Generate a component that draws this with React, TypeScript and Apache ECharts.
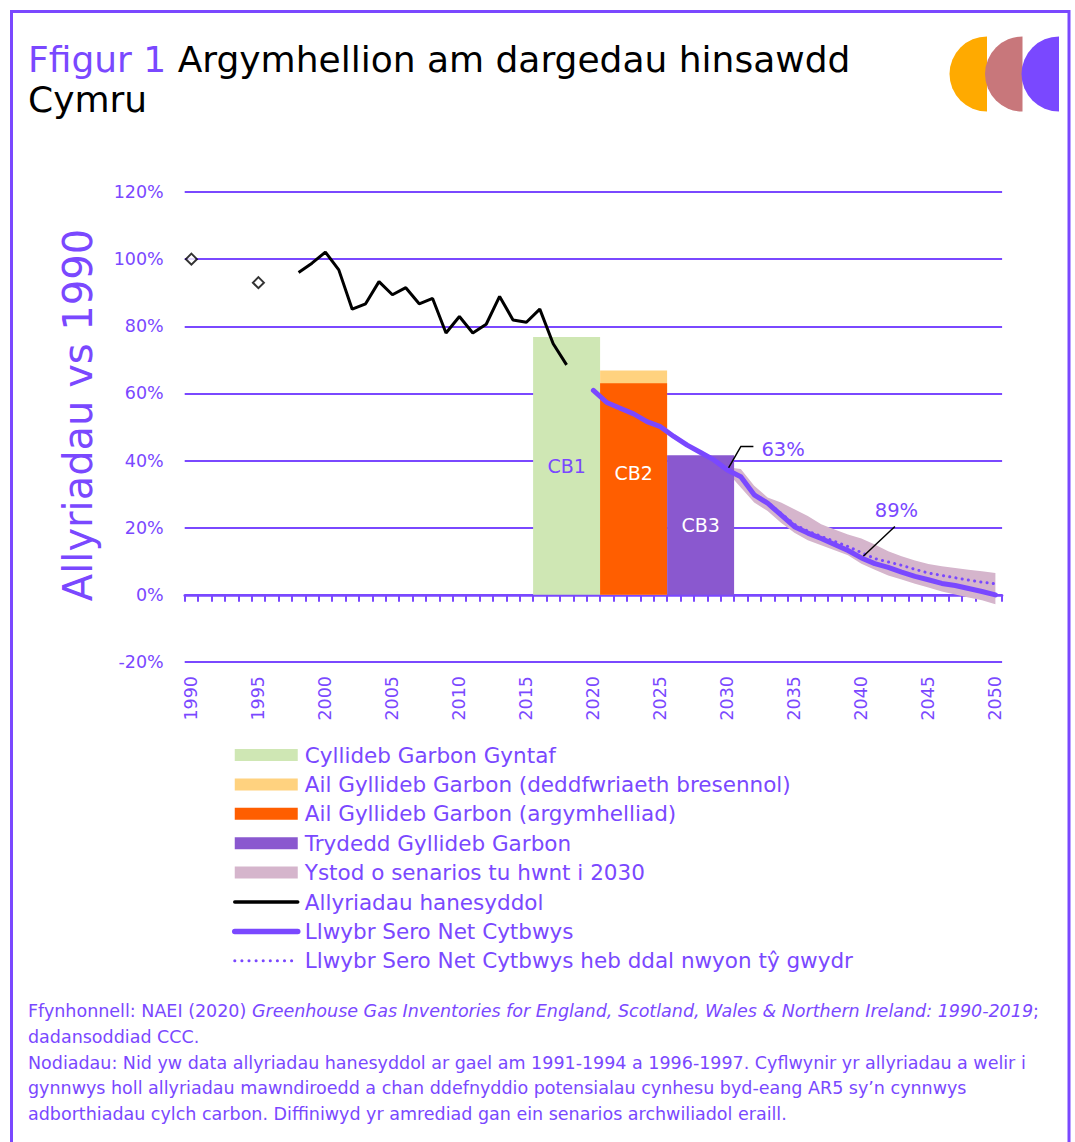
import React, { useEffect, useRef } from 'react';
import * as echarts from 'echarts';

const FONT = '"DejaVu Sans", sans-serif';
const PURPLE = '#7A48FF';
const GREEN = '#CFE7B4';
const YELLOW = '#FFD27F';
const ORANGE = '#FF5E00';
const CB3C = '#8A58CF';
const BAND = '#D5B5CC';

// Categories (years)
const categories: string[] = Array.from({ length: 61 }, (_, i) => String(1990 + i));
const yTicks = { min: -20, max: 120, interval: 20 };

// Historical emissions (% vs 1990)
const histPointYears = [1990, 1995];
const histPointValues = [100, 93];
const histYears = [1998, 1999, 2000, 2001, 2002, 2003, 2004, 2005, 2006, 2007, 2008, 2009, 2010, 2011, 2012, 2013, 2014, 2015, 2016, 2017, 2018];
const histValues = [96.0, 98.8, 102.1, 96.8, 85.1, 86.7, 93.3, 89.4, 91.5, 86.7, 88.3, 78.0, 82.9, 78.0, 80.6, 88.9, 81.9, 81.2, 85.1, 74.8, 68.5];

// Carbon budgets (first year, last year, level)
const cb1Years = [2016, 2020];
const cb1Value = 76.8;
const cb2Years = [2021, 2025];
const cb2LawValue = 66.8;
const cb2RecValue = 63.0;
const cb3Years = [2026, 2030];
const cb3Value = 41.6;
const cbLabels = ['CB1', 'CB2', 'CB3'];

// Balanced Net Zero Pathway
const netZeroYears = [2020, 2021, 2022, 2023, 2024, 2025, 2026, 2027, 2028, 2029, 2030, 2031, 2032, 2033, 2034, 2035, 2036, 2037, 2038, 2039, 2040, 2041, 2042, 2043, 2044, 2045, 2046, 2047, 2048, 2049, 2050];
const netZeroValues = [60.9, 57.3, 55.6, 53.9, 51.6, 50.1, 47.2, 44.6, 42.4, 40.2, 37.2, 35.2, 29.8, 27.3, 23.8, 20.3, 18.4, 16.8, 15.0, 13.2, 11.0, 9.3, 8.2, 6.8, 5.5, 4.5, 3.4, 2.8, 1.9, 1.0, 0.0];
const markerYears = [2030, 2040, 2050];
const markerSizes = [8, 10, 13];

// Pathway without GHG removals
const dottedYears = [2030, 2031, 2032, 2033, 2034, 2035, 2036, 2037, 2038, 2039, 2040, 2041, 2042, 2043, 2044, 2045, 2046, 2047, 2048, 2049, 2050];
const dottedValues = [37.2, 35.2, 30.0, 27.6, 24.3, 21.0, 19.0, 17.4, 15.9, 14.4, 12.6, 10.8, 9.8, 8.8, 7.6, 6.5, 5.8, 5.1, 4.4, 3.8, 3.3];

// Range of scenarios beyond 2030
const bandYears = dottedYears;
const bandUpper = [38.0, 37.5, 32.5, 29.0, 27.5, 25.5, 23.5, 21.0, 19.5, 18.0, 16.8, 15.0, 13.0, 11.5, 10.2, 9.2, 8.5, 8.0, 7.5, 7.0, 6.5];
const bandLower = [36.5, 32.0, 27.5, 25.0, 21.5, 18.5, 16.3, 14.8, 13.3, 11.8, 9.3, 7.5, 5.8, 4.6, 3.3, 2.2, 1.0, 0.1, -0.8, -1.6, -2.8];

// Annotations
const annotYears = [2030, 2040];
const annotValues = [37.2, 11.0];
const annotTexts = ['63%', '89%'];

const legendNames = [
  'Cyllideb Garbon Gyntaf',
  'Ail Gyllideb Garbon (deddfwriaeth bresennol)',
  'Ail Gyllideb Garbon (argymhelliad)',
  'Trydedd Gyllideb Garbon',
  'Ystod o senarios tu hwnt i 2030',
  'Allyriadau hanesyddol',
  'Llwybr Sero Net Cytbwys',
  'Llwybr Sero Net Cytbwys heb ddal nwyon tŷ gwydr',
];

const footLines: { t: string; s: string }[][] = [
  [
    { t: 'Ffynhonnell: NAEI (2020) ', s: 'n' },
    { t: 'Greenhouse Gas Inventories for England, Scotland, Wales & Northern Ireland: 1990-2019', s: 'i' },
    { t: ';', s: 'n' },
  ],
  [{ t: 'dadansoddiad CCC.', s: 'n' }],
  [{ t: 'Nodiadau: Nid yw data allyriadau hanesyddol ar gael am 1991-1994 a 1996-1997. Cyflwynir yr allyriadau a welir i', s: 'n' }],
  [{ t: 'gynnwys holl allyriadau mawndiroedd a chan ddefnyddio potensialau cynhesu byd-eang AR5 sy’n cynnwys', s: 'n' }],
  [{ t: 'adborthiadau cylch carbon. Diffiniwyd yr amrediad gan ein senarios archwiliadol eraill.', s: 'n' }],
];

// Layout / style (pixels)
const annotLayout = [
  { line: [[0, 0], [13.5, -23.5], [26, -23.5]], tx: 34, ty: -20, align: 'left' },
  { line: [[0, 0], [33.5, -31.5]], tx: 35, ty: -47, align: 'center' },
];

const idx = (y: number) => y - 1990;

// One solid block per carbon budget, placed through the category axis
function budgetSeries(name: string, color: string, years: number[], value: number, label: string | null, labelColor: string, labelDy: number) {
  return {
    type: 'custom',
    name,
    xAxisIndex: 0,
    silent: true,
    itemStyle: { color },
    data: [[idx(years[0]), idx(years[1]), value]],
    encode: { x: [0, 1], y: 2 },
    renderItem: (params: any, api: any) => {
      const w = api.size([1, 0])[0];
      const pTop = api.coord([api.value(0), api.value(2)]);
      const pBot = api.coord([api.value(1), 0]);
      const x0 = pTop[0] - w / 2;
      const x1 = pBot[0] + w / 2;
      const children: any[] = [
        { type: 'rect', shape: { x: x0, y: pTop[1], width: x1 - x0, height: pBot[1] - pTop[1] }, style: { fill: color } },
      ];
      if (label) {
        children.push({
          type: 'text',
          x: (x0 + x1) / 2,
          y: (pTop[1] + pBot[1]) / 2 + labelDy,
          style: { text: label, fill: labelColor, fontFamily: FONT, fontSize: 19, align: 'center', verticalAlign: 'middle' },
        });
      }
      return { type: 'group', children };
    },
    z: 2,
  };
}

const hiddenSymbol = { color: 'rgba(0,0,0,0)', borderColor: 'rgba(0,0,0,0)', borderWidth: 0, opacity: 0 };

function buildOption(): any {
  const netZeroData = netZeroYears.map((y, i) => {
    const m = markerYears.indexOf(y);
    if (m >= 0) {
      return {
        value: [idx(y), netZeroValues[i]],
        symbol: 'diamond',
        symbolSize: markerSizes[m],
        itemStyle: { color: '#fff', borderColor: PURPLE, borderWidth: 2 },
      };
    }
    return [idx(y), netZeroValues[i]];
  });

  const footElements = footLines.map((parts, li) => ({
    type: 'text',
    x: 28,
    y: 1011 + li * 25.75,
    silent: true,
    style: {
      text: parts.map((p) => `{${p.s}|${p.t}}`).join(''),
      rich: {
        n: { fontFamily: FONT, fontSize: 17.5, fill: PURPLE },
        i: { fontFamily: FONT, fontSize: 17.5, fill: PURPLE, fontStyle: 'italic' },
      },
      align: 'left',
      verticalAlign: 'middle',
    },
  }));

  return {
    animation: false,
    backgroundColor: '#fff',
    textStyle: { fontFamily: FONT },
    grid: { left: 184.7, top: 192, width: 817.4, height: 470, containLabel: false },
    xAxis: [
      {
        type: 'category',
        data: categories,
        boundaryGap: true,
        position: 'bottom',
        axisLine: { show: true, onZero: true, lineStyle: { color: PURPLE, width: 2.5 } },
        axisTick: { show: true, interval: 0, length: 7, lineStyle: { color: PURPLE, width: 2 } },
        axisLabel: { show: false },
        splitLine: { show: false },
      },
      {
        type: 'category',
        data: categories,
        boundaryGap: true,
        position: 'bottom',
        axisLine: { show: false, onZero: false },
        axisTick: { show: false },
        axisLabel: {
          show: true,
          interval: 4,
          rotate: 90,
          margin: 14,
          color: PURPLE,
          fontFamily: FONT,
          fontSize: 17.5,
        },
        splitLine: { show: false },
      },
    ],
    yAxis: {
      type: 'value',
      min: yTicks.min,
      max: yTicks.max,
      interval: yTicks.interval,
      axisLine: { show: false },
      axisTick: { show: false },
      axisLabel: { formatter: '{value}%', color: PURPLE, fontFamily: FONT, fontSize: 17.5, margin: 21 },
      splitLine: { show: true, lineStyle: { color: PURPLE, width: 2 } },
    },
    legend: {
      orient: 'vertical',
      left: 232,
      top: 744,
      padding: 0,
      itemWidth: 63,
      itemHeight: 12,
      itemGap: 7.4,
      selectedMode: false,
      data: [
        { name: legendNames[0], icon: 'rect' },
        { name: legendNames[1], icon: 'rect' },
        { name: legendNames[2], icon: 'rect' },
        { name: legendNames[3], icon: 'rect' },
        { name: legendNames[4], icon: 'rect' },
        { name: legendNames[5], itemStyle: hiddenSymbol, lineStyle: { color: '#000', width: 3.5, cap: 'round' } },
        { name: legendNames[6], itemStyle: hiddenSymbol, lineStyle: { color: PURPLE, width: 5.5, cap: 'round' } },
        { name: legendNames[7], itemStyle: hiddenSymbol, lineStyle: { color: PURPLE, width: 3, type: [0.1, 7], cap: 'round' } },
      ],
      textStyle: { color: PURPLE, fontFamily: FONT, fontSize: 21.5, lineHeight: 22, padding: [0, 0, 0, 2] },
    },
    series: [
      {
        type: 'custom',
        name: legendNames[4],
        xAxisIndex: 0,
        silent: true,
        itemStyle: { color: BAND },
        data: bandYears.map((y, i) => [idx(y), bandUpper[i], bandLower[i]]),
        encode: { x: 0, y: 1 },
        renderItem: (params: any, api: any) => {
          if (params.dataIndex !== 0) return null;
          const top = bandYears.map((y, i) => api.coord([idx(y), bandUpper[i]]));
          const bot = bandYears.map((y, i) => api.coord([idx(y), bandLower[i]])).reverse();
          return { type: 'polygon', shape: { points: top.concat(bot) }, style: { fill: BAND } };
        },
        z: 1,
      },
      budgetSeries(legendNames[0], GREEN, cb1Years, cb1Value, cbLabels[0], PURPLE, 0),
      budgetSeries(legendNames[1], YELLOW, cb2Years, cb2LawValue, null, '#fff', 0),
      budgetSeries(legendNames[2], ORANGE, cb2Years, cb2RecValue, cbLabels[1], '#fff', -16),
      budgetSeries(legendNames[3], CB3C, cb3Years, cb3Value, cbLabels[2], '#fff', 0),
      {
        type: 'line',
        name: legendNames[5],
        xAxisIndex: 0,
        symbol: 'none',
        silent: true,
        lineStyle: { color: '#000', width: 3 },
        itemStyle: { color: '#000' },
        data: histYears.map((y, i) => [idx(y), histValues[i]]),
        z: 3,
      },
      {
        type: 'line',
        name: legendNames[7],
        xAxisIndex: 0,
        symbol: 'none',
        silent: true,
        lineStyle: { color: PURPLE, width: 3, type: [0.1, 6.2], cap: 'round' },
        itemStyle: { color: PURPLE },
        data: dottedYears.map((y, i) => [idx(y), dottedValues[i]]),
        z: 3,
      },
      {
        type: 'custom',
        name: 'annotations',
        xAxisIndex: 0,
        silent: true,
        data: annotYears.map((y, i) => [idx(y), annotValues[i]]),
        encode: { x: 0, y: 1 },
        renderItem: (params: any, api: any) => {
          const i = params.dataIndex;
          const p = api.coord([api.value(0), api.value(1)]);
          const L = annotLayout[i];
          return {
            type: 'group',
            children: [
              {
                type: 'polyline',
                shape: { points: L.line.map(([dx, dy]) => [p[0] + dx, p[1] + dy]) },
                style: { stroke: '#000', lineWidth: 1.5, fill: null },
              },
              {
                type: 'text',
                x: p[0] + L.tx,
                y: p[1] + L.ty,
                style: {
                  text: annotTexts[i],
                  fill: PURPLE,
                  fontFamily: FONT,
                  fontSize: 19.5,
                  align: L.align,
                  verticalAlign: 'middle',
                },
              },
            ],
          };
        },
        z: 4,
      },
      {
        type: 'line',
        name: legendNames[6],
        xAxisIndex: 0,
        symbol: 'none',
        showSymbol: true,
        silent: true,
        lineStyle: { color: PURPLE, width: 5, cap: 'round', join: 'round' },
        itemStyle: { color: PURPLE },
        data: netZeroData,
        z: 5,
      },
      {
        type: 'scatter',
        name: 'historical points',
        xAxisIndex: 0,
        symbol: 'diamond',
        symbolSize: 11,
        silent: true,
        itemStyle: { color: '#fff', borderColor: '#000', borderWidth: 2 },
        data: histPointYears.map((y, i) => [idx(y), histPointValues[i]]),
        z: 5,
      },
    ],
    graphic: {
      elements: [
        {
          type: 'rect',
          silent: true,
          shape: { x: 11.5, y: 11.5, width: 1057.5, height: 1200 },
          style: { stroke: PURPLE, lineWidth: 3, fill: 'none' },
        },
        {
          type: 'sector',
          silent: true,
          shape: { cx: 987, cy: 74, r: 37.5, startAngle: Math.PI / 2, endAngle: Math.PI * 1.5, clockwise: true },
          style: { fill: '#FFAA00' },
        },
        {
          type: 'sector',
          silent: true,
          shape: { cx: 1022.5, cy: 74, r: 37.5, startAngle: Math.PI / 2, endAngle: Math.PI * 1.5, clockwise: true },
          style: { fill: '#C8777B' },
        },
        {
          type: 'sector',
          silent: true,
          shape: { cx: 1059, cy: 74, r: 37.5, startAngle: Math.PI / 2, endAngle: Math.PI * 1.5, clockwise: true },
          style: { fill: PURPLE },
        },
        {
          type: 'text',
          x: 28,
          y: 59,
          silent: true,
          style: {
            text: '{p|Ffigur 1} {b|Argymhellion am dargedau hinsawdd}',
            rich: {
              p: { fill: PURPLE, fontFamily: FONT, fontSize: 36 },
              b: { fill: '#000', fontFamily: FONT, fontSize: 36 },
            },
            fontFamily: FONT,
            fontSize: 36,
            align: 'left',
            verticalAlign: 'middle',
          },
        },
        {
          type: 'text',
          x: 28,
          y: 99,
          silent: true,
          style: {
            text: 'Cymru',
            fill: '#000',
            fontFamily: FONT,
            fontSize: 36,
            align: 'left',
            verticalAlign: 'middle',
          },
        },
        {
          type: 'text',
          x: 78,
          y: 415,
          rotation: Math.PI / 2,
          silent: true,
          style: {
            text: 'Allyriadau vs 1990',
            fill: PURPLE,
            fontFamily: FONT,
            fontSize: 40,
            align: 'center',
            verticalAlign: 'middle',
          },
        },
        ...footElements,
      ],
    },
  };
}

export default function App() {
  const ref = useRef<HTMLDivElement>(null);
  useEffect(() => {
    if (!ref.current) return;
    const chart = echarts.init(ref.current, null, { renderer: 'svg' });
    chart.setOption(buildOption());
    return () => chart.dispose();
  }, []);
  return (
    <div
      ref={ref}
      style={{ position: 'absolute', left: 0, top: 0, width: 1075, height: 1142, background: '#fff' }}
    />
  );
}
